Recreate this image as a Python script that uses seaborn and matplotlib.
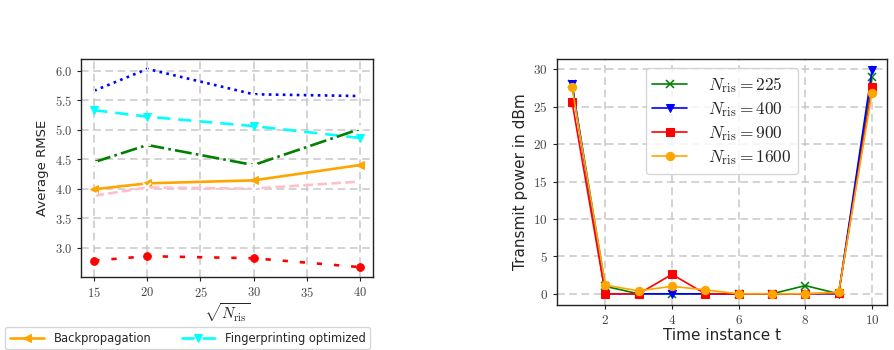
import matplotlib
matplotlib.use("Agg")
import matplotlib.pyplot as plt
import seaborn as sns
import numpy as np
from matplotlib.ticker import FuncFormatter, MultipleLocator

# ---------------- data: left panel ----------------
sqrt_nris = [15, 20, 30, 40]
rmse_blue_dotted = [5.66, 6.03, 5.60, 5.57]
rmse_fp_optimized = [5.33, 5.22, 5.06, 4.86]
rmse_green_dashdot = [4.45, 4.74, 4.40, 5.01]
rmse_backprop = [3.99, 4.09, 4.14, 4.40]
rmse_pink_dashed = [3.88, 4.02, 4.00, 4.12]
rmse_red_dashed = [2.78, 2.855, 2.82, 2.67]

# ---------------- data: right panel ----------------
time_t = [1, 2, 3, 4, 5, 6, 7, 8, 9, 10]
p_225 = [28.0, 1.0, 0.0, 0.0, 0.0, 0.0, 0.0, 1.1, 0.0, 29.0]
p_400 = [28.1, 0.0, 0.0, 0.0, 0.0, 0.0, 0.0, 0.0, 0.0, 29.9]
p_900 = [25.7, 0.0, 0.0, 2.6, 0.0, 0.0, 0.0, 0.0, 0.1, 27.6]
p_1600 = [27.65, 1.16, 0.4, 1.0, 0.53, 0.0, 0.0, 0.0, 0.2, 26.9]
legend_labels_right = [r"$N_{\mathrm{ris}} = 225$", r"$N_{\mathrm{ris}} = 400$",
                       r"$N_{\mathrm{ris}} = 900$", r"$N_{\mathrm{ris}} = 1600$"]

sns.set_style("whitegrid")
plt.rcParams["font.family"] = ["DejaVu Sans"]
plt.rcParams["mathtext.fontset"] = "cm"

fig = plt.figure(figsize=(8.94, 3.5), dpi=100)
W, H = 894, 350
def axes_px(l, t, r, b):
    return fig.add_axes([l / W, 1 - b / H, (r - l) / W, (b - t) / H])

ax1 = axes_px(81, 59, 373, 277)
ax2 = axes_px(557, 59, 887, 305)

for ax in (ax1, ax2):
    ax.grid(True, linestyle=(0, (5, 3)), color="#c8c8c8", linewidth=1.1)
    for s in ax.spines.values():
        s.set_color("#222222")
        s.set_linewidth(1.0)
    ax.tick_params(axis="both", which="both", direction="out", length=3,
                   width=0.8, color="#222222", bottom=True, left=True,
                   colors="#444444")

# Left panel
lw = 1.9
sns.lineplot(x=sqrt_nris, y=rmse_blue_dotted, ax=ax1, color="blue", linestyle=":",
             marker="2", markersize=5, linewidth=lw)
sns.lineplot(x=sqrt_nris, y=rmse_fp_optimized, ax=ax1, color="cyan", linestyle=(0, (5, 3)),
             marker="v", markersize=5.5, linewidth=lw, markeredgecolor="cyan",
             label="Fingerprinting optimized")
sns.lineplot(x=sqrt_nris, y=rmse_green_dashdot, ax=ax1, color="green", linestyle="-.",
             marker="+", markersize=6, linewidth=lw, markeredgewidth=1.3)
sns.lineplot(x=sqrt_nris, y=rmse_backprop, ax=ax1, color="orange", linestyle="-",
             marker="<", markersize=5.5, linewidth=lw, markeredgecolor="orange",
             label="Backpropagation")
sns.lineplot(x=sqrt_nris, y=rmse_pink_dashed, ax=ax1, color="pink", linestyle="--",
             marker="x", markersize=5.5, linewidth=lw, markeredgewidth=1.3)
sns.lineplot(x=sqrt_nris, y=rmse_red_dashed, ax=ax1, color="red", linestyle=(0, (2, 4.5)),
             marker="o", markersize=5.5, linewidth=lw, markeredgecolor="red")

ax1.xaxis.set_major_locator(MultipleLocator(5))
ax1.yaxis.set_major_locator(MultipleLocator(0.5))
ax1.xaxis.set_major_formatter(FuncFormatter(lambda v, p: r"$%d$" % round(v)))
ax1.yaxis.set_major_formatter(FuncFormatter(lambda v, p: r"$%.1f$" % v))
ax1.tick_params(labelsize=9)
ax1.set_xlabel(r"$\sqrt{N_{\mathrm{ris}}}$", fontsize=11, labelpad=1)
ax1.set_ylabel("Average RMSE", fontsize=9.5)

h, l = ax1.get_legend_handles_labels()
order = [l.index("Backpropagation"), l.index("Fingerprinting optimized")]
ax1.legend([h[i] for i in order], [l[i] for i in order], ncol=2,
           loc="upper left", bbox_to_anchor=(5 / W, 1 - 327 / H),
           bbox_transform=fig.transFigure, fontsize=8.3, frameon=True,
           fancybox=True, edgecolor="#cccccc", columnspacing=2.6,
           handlelength=3.0, borderaxespad=0)

# Right panel
sns.lineplot(x=time_t, y=p_225, ax=ax2, color="green", marker="x", markersize=5.5,
             linewidth=1.2, markeredgewidth=1.1, markeredgecolor="green", label=legend_labels_right[0])
sns.lineplot(x=time_t, y=p_400, ax=ax2, color="blue", marker="v", markersize=6,
             linewidth=1.2, markeredgecolor="blue", label=legend_labels_right[1])
sns.lineplot(x=time_t, y=p_900, ax=ax2, color="red", marker="s", markersize=5.5,
             linewidth=1.2, markeredgecolor="red", label=legend_labels_right[2])
sns.lineplot(x=time_t, y=p_1600, ax=ax2, color="orange", marker="o", markersize=6,
             linewidth=1.2, markeredgecolor="orange", label=legend_labels_right[3])

ax2.xaxis.set_major_locator(MultipleLocator(2))
ax2.yaxis.set_major_locator(MultipleLocator(5))
ax2.xaxis.set_major_formatter(FuncFormatter(lambda v, p: r"$%d$" % round(v)))
ax2.yaxis.set_major_formatter(FuncFormatter(lambda v, p: r"$%d$" % round(v)))
ax2.tick_params(labelsize=9.5)
ax2.set_xlabel("Time instance t", fontsize=11, labelpad=1)
ax2.set_ylabel("Transmit power in dBm", fontsize=11)
ax2.legend(loc="upper center", fontsize=12.5, frameon=True, fancybox=True,
           edgecolor="#cccccc", handlelength=2.0, borderpad=0.4,
           labelspacing=0.3, handletextpad=1.2)

fig.savefig("out.png", dpi=100)
